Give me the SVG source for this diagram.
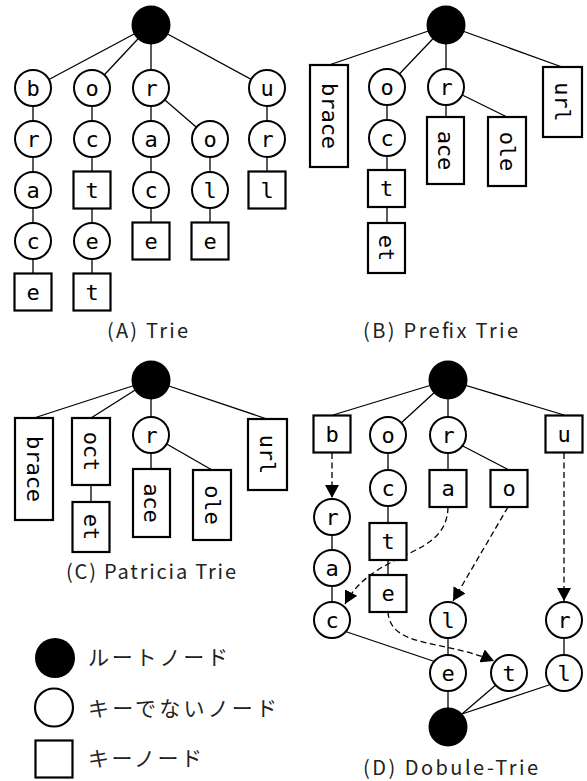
<svg xmlns="http://www.w3.org/2000/svg" width="587" height="781" viewBox="0 0 587 781">
<style>
.c{fill:#fff;stroke:#000;stroke-width:2}
.k{fill:#fff;stroke:#000;stroke-width:2.2}
.rt{fill:#000}
.e{stroke:#000;stroke-width:1.3;fill:none}
.d{stroke:#000;stroke-width:1.3;fill:none;stroke-dasharray:6,3.5}
.t{font-family:"DejaVu Sans Mono",monospace;font-size:22px;text-anchor:middle;fill:#000}
.lbl{font-family:"Noto Sans CJK JP",sans-serif;font-size:20px;fill:#222}
.lg{font-family:"Noto Sans CJK JP",sans-serif;font-size:21px;fill:#222}
</style>
<defs>
<marker id="ah" markerWidth="14" markerHeight="14" refX="13" refY="7" orient="auto" markerUnits="userSpaceOnUse"><path d="M0,0 L13,7 L0,14 z" fill="#000"/></marker>
</defs>

<!-- ========== (A) Trie ========== -->
<g id="connectors-A">
<line class="e" x1="151" y1="25" x2="33" y2="88"/>
<line class="e" x1="151" y1="25" x2="92" y2="88"/>
<line class="e" x1="151" y1="25" x2="151" y2="88"/>
<line class="e" x1="151" y1="25" x2="267" y2="88"/>
<line class="e" x1="33" y1="88" x2="33" y2="292"/>
<line class="e" x1="92" y1="88" x2="92" y2="292"/>
<line class="e" x1="151" y1="88" x2="151" y2="241"/>
<line class="e" x1="151" y1="88" x2="210" y2="139"/>
<line class="e" x1="210" y1="139" x2="210" y2="241"/>
<line class="e" x1="267" y1="88" x2="267" y2="190"/>
</g>
<g id="A-root"><circle class="rt" cx="151" cy="25" r="19.5"/></g>
<g id="A-b"><circle class="c" cx="33" cy="88" r="18"/><text class="t" x="33" y="95.5">b</text></g>
<g id="A-br"><circle class="c" cx="33" cy="139" r="18"/><text class="t" x="33" y="146.5">r</text></g>
<g id="A-bra"><circle class="c" cx="33" cy="190" r="18"/><text class="t" x="33" y="197.5">a</text></g>
<g id="A-brac"><circle class="c" cx="33" cy="241" r="18"/><text class="t" x="33" y="248.5">c</text></g>
<g id="A-brace"><rect class="k" x="14.5" y="273.5" width="37" height="37"/><text class="t" x="33" y="299.5">e</text></g>
<g id="A-o"><circle class="c" cx="92" cy="88" r="18"/><text class="t" x="92" y="95.5">o</text></g>
<g id="A-oc"><circle class="c" cx="92" cy="139" r="18"/><text class="t" x="92" y="146.5">c</text></g>
<g id="A-oct"><rect class="k" x="73.5" y="171.5" width="37" height="37"/><text class="t" x="92" y="197.5">t</text></g>
<g id="A-octe"><circle class="c" cx="92" cy="241" r="18"/><text class="t" x="92" y="248.5">e</text></g>
<g id="A-octet"><rect class="k" x="73.5" y="273.5" width="37" height="37"/><text class="t" x="92" y="299.5">t</text></g>
<g id="A-r"><circle class="c" cx="151" cy="88" r="18"/><text class="t" x="151" y="95.5">r</text></g>
<g id="A-ra"><circle class="c" cx="151" cy="139" r="18"/><text class="t" x="151" y="146.5">a</text></g>
<g id="A-rac"><circle class="c" cx="151" cy="190" r="18"/><text class="t" x="151" y="197.5">c</text></g>
<g id="A-race"><rect class="k" x="132.5" y="222.5" width="37" height="37"/><text class="t" x="151" y="248.5">e</text></g>
<g id="A-ro"><circle class="c" cx="210" cy="139" r="18"/><text class="t" x="210" y="146.5">o</text></g>
<g id="A-rol"><circle class="c" cx="210" cy="190" r="18"/><text class="t" x="210" y="197.5">l</text></g>
<g id="A-role"><rect class="k" x="191.5" y="222.5" width="37" height="37"/><text class="t" x="210" y="248.5">e</text></g>
<g id="A-u"><circle class="c" cx="267" cy="88" r="18"/><text class="t" x="267" y="95.5">u</text></g>
<g id="A-ur"><circle class="c" cx="267" cy="139" r="18"/><text class="t" x="267" y="146.5">r</text></g>
<g id="A-url"><rect class="k" x="248.5" y="171.5" width="37" height="37"/><text class="t" x="267" y="197.5">l</text></g>
<text class="lbl" x="107" y="338" textLength="81" lengthAdjust="spacing">(A) Trie</text>

<!-- ========== (B) Prefix Trie ========== -->
<g id="connectors-B">
<line class="e" x1="446" y1="25" x2="329" y2="65"/>
<line class="e" x1="446" y1="25" x2="387" y2="87"/>
<line class="e" x1="446" y1="25" x2="446" y2="87"/>
<line class="e" x1="446" y1="25" x2="562" y2="67"/>
<line class="e" x1="387" y1="87" x2="387" y2="223"/>
<line class="e" x1="446" y1="87" x2="446" y2="117"/>
<line class="e" x1="446" y1="87" x2="507" y2="117"/>
</g>
<g id="B-root"><circle class="rt" cx="446" cy="25" r="19.5"/></g>
<g id="B-brace"><rect class="k" x="310" y="65" width="38" height="102"/><text class="t" transform="translate(329,116) rotate(90)" x="0" y="7.5">brace</text></g>
<g id="B-o"><circle class="c" cx="387" cy="87" r="18"/><text class="t" x="387" y="94.5">o</text></g>
<g id="B-oc"><circle class="c" cx="387" cy="138" r="18"/><text class="t" x="387" y="145.5">c</text></g>
<g id="B-oct"><rect class="k" x="368" y="170" width="37" height="37"/><text class="t" x="386.5" y="196">t</text></g>
<g id="B-octet"><rect class="k" x="368" y="223" width="37" height="50"/><text class="t" transform="translate(386.5,248) rotate(90)" x="0" y="7.5">et</text></g>
<g id="B-r"><circle class="c" cx="446" cy="87" r="18"/><text class="t" x="446" y="94.5">r</text></g>
<g id="B-race"><rect class="k" x="427" y="117" width="37" height="67"/><text class="t" transform="translate(445.5,150.5) rotate(90)" x="0" y="7.5">ace</text></g>
<g id="B-role"><rect class="k" x="488" y="117" width="38" height="69"/><text class="t" transform="translate(507,151.5) rotate(90)" x="0" y="7.5">ole</text></g>
<g id="B-url"><rect class="k" x="543" y="67" width="39" height="70"/><text class="t" transform="translate(562.5,102) rotate(90)" x="0" y="7.5">url</text></g>
<text class="lbl" x="363" y="338" textLength="155" lengthAdjust="spacing">(B) Prefix Trie</text>

<!-- ========== (C) Patricia Trie ========== -->
<g id="connectors-C">
<line class="e" x1="151" y1="380" x2="34" y2="418"/>
<line class="e" x1="151" y1="380" x2="91" y2="418"/>
<line class="e" x1="151" y1="380" x2="151" y2="435"/>
<line class="e" x1="151" y1="380" x2="267" y2="419"/>
<line class="e" x1="91" y1="485" x2="91" y2="502"/>
<line class="e" x1="151" y1="435" x2="151" y2="469"/>
<line class="e" x1="151" y1="435" x2="212" y2="470"/>
</g>
<g id="C-root"><circle class="rt" cx="151" cy="380" r="19.5"/></g>
<g id="C-brace"><rect class="k" x="15" y="418" width="38" height="102"/><text class="t" transform="translate(34,469) rotate(90)" x="0" y="7.5">brace</text></g>
<g id="C-oct"><rect class="k" x="72" y="418" width="38" height="67"/><text class="t" transform="translate(91,451.5) rotate(90)" x="0" y="7.5">oct</text></g>
<g id="C-octet"><rect class="k" x="72.5" y="502" width="37" height="50"/><text class="t" transform="translate(91,527) rotate(90)" x="0" y="7.5">et</text></g>
<g id="C-r"><circle class="c" cx="151" cy="435" r="18"/><text class="t" x="151" y="442.5">r</text></g>
<g id="C-race"><rect class="k" x="133" y="469" width="37" height="68"/><text class="t" transform="translate(151.5,503) rotate(90)" x="0" y="7.5">ace</text></g>
<g id="C-role"><rect class="k" x="193" y="470" width="38" height="70"/><text class="t" transform="translate(212,505) rotate(90)" x="0" y="7.5">ole</text></g>
<g id="C-url"><rect class="k" x="248" y="419" width="39" height="71"/><text class="t" transform="translate(267.5,454.5) rotate(90)" x="0" y="7.5">url</text></g>
<text class="lbl" x="66" y="579" textLength="170" lengthAdjust="spacing">(C) Patricia Trie</text>

<!-- ========== (D) Double-Trie ========== -->
<g id="connectors-D">
<line class="e" x1="448" y1="380" x2="333" y2="415"/>
<line class="e" x1="448" y1="380" x2="388" y2="435"/>
<line class="e" x1="448" y1="380" x2="448" y2="435"/>
<line class="e" x1="448" y1="380" x2="564" y2="415"/>
<line class="e" x1="388" y1="435" x2="388" y2="593"/>
<line class="e" x1="448" y1="435" x2="448" y2="488"/>
<line class="e" x1="457" y1="443" x2="509" y2="470"/>
<line class="e" x1="332" y1="517" x2="332" y2="620"/>
<line class="e" x1="344" y1="631" x2="436" y2="662"/>
<line class="e" x1="448" y1="620" x2="448" y2="727"/>
<line class="e" x1="564" y1="620" x2="564" y2="673"/>
<line class="e" x1="497" y1="684" x2="462" y2="714"/>
<line class="e" x1="552" y1="684" x2="462" y2="714"/>
<line class="d" x1="332" y1="453" x2="332" y2="498" marker-end="url(#ah)"/>
<line class="d" x1="564" y1="453" x2="564" y2="601" marker-end="url(#ah)"/>
<path class="d" d="M448,507 C447,560 375,548 345,604" marker-end="url(#ah)"/>
<line class="d" x1="508" y1="507" x2="453" y2="601" marker-end="url(#ah)"/>
<path class="d" d="M388,612 C390,648 445,640 494,661" marker-end="url(#ah)"/>
</g>
<g id="D-root"><circle class="rt" cx="448" cy="380" r="19.5"/></g>
<g id="D-b"><rect class="k" x="313.5" y="415.5" width="37" height="37"/><text class="t" x="332" y="441.5">b</text></g>
<g id="D-o"><circle class="c" cx="388" cy="435" r="18"/><text class="t" x="388" y="442.5">o</text></g>
<g id="D-r"><circle class="c" cx="448" cy="435" r="18"/><text class="t" x="448" y="442.5">r</text></g>
<g id="D-u"><rect class="k" x="545.5" y="415.5" width="37" height="37"/><text class="t" x="564" y="441.5">u</text></g>
<g id="D-oc"><circle class="c" cx="388" cy="488" r="18"/><text class="t" x="388" y="495.5">c</text></g>
<g id="D-ra"><rect class="k" x="429.5" y="470" width="37" height="37"/><text class="t" x="448" y="496">a</text></g>
<g id="D-ro"><rect class="k" x="490.5" y="470" width="37" height="37"/><text class="t" x="509" y="496">o</text></g>
<g id="D-br"><circle class="c" cx="332" cy="517" r="18"/><text class="t" x="332" y="524.5">r</text></g>
<g id="D-oct"><rect class="k" x="369.5" y="523" width="37" height="37"/><text class="t" x="388" y="549">t</text></g>
<g id="D-bra"><circle class="c" cx="332" cy="568" r="18"/><text class="t" x="332" y="575.5">a</text></g>
<g id="D-octe"><rect class="k" x="369.5" y="575" width="37" height="37"/><text class="t" x="388" y="601">e</text></g>
<g id="D-c"><circle class="c" cx="332" cy="620" r="18"/><text class="t" x="332" y="627.5">c</text></g>
<g id="D-l"><circle class="c" cx="448" cy="620" r="18"/><text class="t" x="448" y="627.5">l</text></g>
<g id="D-ur"><circle class="c" cx="564" cy="620" r="18"/><text class="t" x="564" y="627.5">r</text></g>
<g id="D-e"><circle class="c" cx="448" cy="673" r="18"/><text class="t" x="448" y="680.5">e</text></g>
<g id="D-t"><circle class="c" cx="509" cy="673" r="18"/><text class="t" x="509" y="680.5">t</text></g>
<g id="D-ul"><circle class="c" cx="564" cy="673" r="18"/><text class="t" x="564" y="680.5">l</text></g>
<g id="D-root2"><circle class="rt" cx="448" cy="727" r="19.5"/></g>
<text class="lbl" x="363" y="775" textLength="175" lengthAdjust="spacing">(D) Dobule-Trie</text>

<!-- ========== Legend ========== -->
<g id="legend-root"><circle class="rt" cx="55" cy="658" r="20"/><text class="lg" x="88" y="665" textLength="140" lengthAdjust="spacing">ルートノード</text></g>
<g id="legend-nonkey"><circle class="k" cx="54" cy="707.5" r="19"/><text class="lg" x="88" y="716" textLength="189" lengthAdjust="spacing">キーでないノード</text></g>
<g id="legend-key"><rect class="k" x="35.5" y="740.5" width="37" height="37"/><text class="lg" x="88" y="766" textLength="114" lengthAdjust="spacing">キーノード</text></g>
</svg>
